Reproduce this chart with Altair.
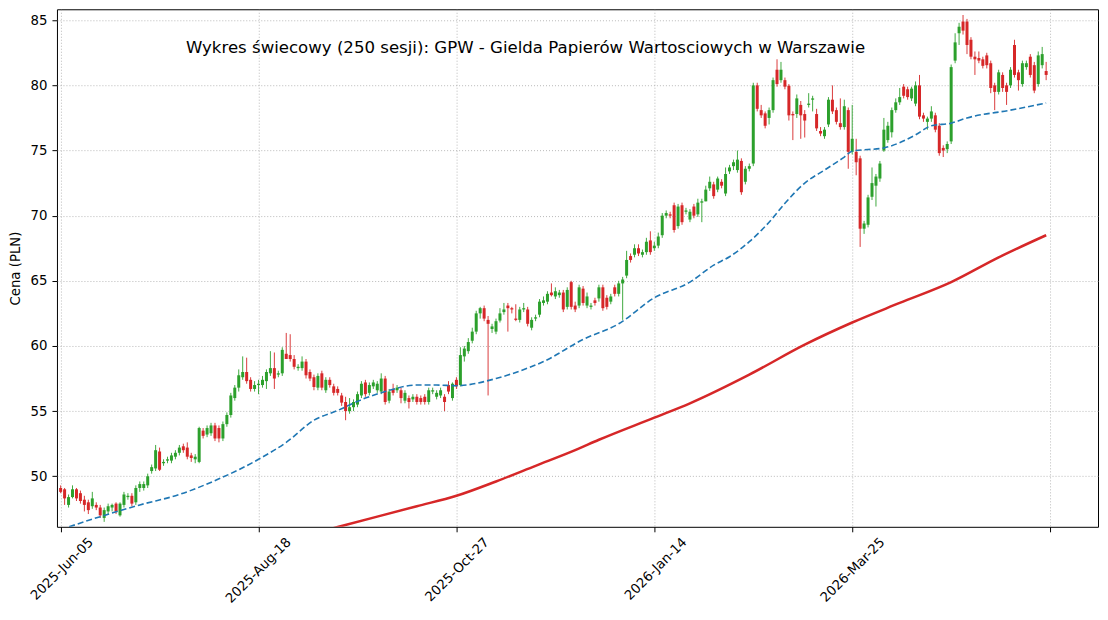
import pandas as pd
import altair as alt

# candles (one value per session, 250 sessions)
opens = [
    49.1, 49.0, 47.8, 48.4, 49.0, 48.7, 48.2, 48.0, 47.7, 47.8,
    47.6, 46.8, 47.3, 47.6, 47.9, 47.0, 47.8, 48.4, 48.5, 48.0,
    49.1, 49.1, 49.3, 50.4, 50.6, 51.9, 51.0, 51.2, 51.2, 51.5,
    51.8, 52.3, 52.2, 51.6, 51.3, 51.1, 53.5, 53.2, 53.3, 53.9,
    53.7, 52.9, 54.0, 54.7, 56.0, 56.8, 57.6, 58.0, 57.4, 56.7,
    57.0, 57.0, 57.3, 57.9, 58.3, 57.8, 57.9, 59.4, 59.3, 59.0,
    58.3, 58.3, 58.8, 58.0, 57.6, 56.8, 57.9, 56.6, 57.4, 56.9,
    56.7, 56.2, 55.7, 55.0, 55.3, 55.5, 56.2, 57.2, 56.4, 56.9,
    56.6, 56.5, 57.5, 55.8, 56.7, 56.6, 56.6, 55.8, 56.0, 55.9,
    56.1, 56.0, 56.1, 55.7, 56.5, 56.1, 56.2, 56.1, 57.0, 56.0,
    57.4, 57.0, 59.2, 59.6, 60.4, 61.1, 62.5, 62.9, 62.0, 61.3,
    61.1, 61.95, 62.6, 63.1, 62.9, 62.1, 62.0, 62.8, 62.8, 61.4,
    62.1, 62.4, 63.3, 63.4, 64.1, 63.8, 63.9, 64.1, 63.0, 64.9,
    63.1, 63.1, 64.4, 63.1, 63.0, 63.5, 63.65, 64.5, 63.7, 63.4,
    64.5, 64.0, 64.8, 65.4, 66.9, 67.0, 67.5, 67.0, 67.2, 68.1,
    67.5, 67.7, 68.5, 70.0, 70.1, 70.8, 69.2, 70.8, 70.3, 69.7,
    70.7, 70.1, 71.0, 71.1, 72.1, 72.4, 72.0, 72.6, 71.7, 73.4,
    73.8, 73.5, 74.2, 72.6, 73.6, 74.0, 80.0, 78.1, 77.85, 77.5,
    78.1, 81.2, 80.4, 80.4, 79.97, 77.8, 77.8, 78.5, 77.8, 78.5,
    78.9, 77.8, 76.5, 76.1, 77.0, 78.9, 78.1, 77.1, 76.8, 78.1,
    74.9, 74.9, 74.4, 69.0, 69.3, 71.45, 72.3, 72.85, 75.0, 75.8,
    76.4, 78.1, 78.7, 79.9, 79.7, 79.0, 78.6, 80.0, 77.7, 77.2,
    77.45, 77.7, 76.9, 75.2, 75.1, 75.7, 81.9, 84.0, 84.9, 84.9,
    83.5, 82.2, 82.1, 82.0, 82.3, 81.7, 80.0, 79.5, 80.8, 80.0,
    80.0, 83.1, 81.0, 80.1, 81.4, 82.2, 81.55, 80.1, 81.55, 81.1,
]
highs = [
    49.3, 49.1, 48.6, 49.3, 49.1, 48.9, 48.5, 48.2, 48.8, 48.0,
    47.8, 47.6, 47.9, 47.9, 48.0, 48.0, 48.8, 48.7, 48.7, 49.3,
    49.6, 49.6, 50.2, 50.9, 52.4, 52.2, 51.3, 51.5, 51.8, 52.0,
    52.4, 52.5, 52.6, 51.8, 51.7, 53.8, 53.7, 53.9, 54.1, 54.1,
    53.9, 54.2, 54.9, 56.4, 57.0, 58.2, 59.2, 59.1, 57.6, 57.3,
    57.4, 57.7, 58.2, 59.6, 59.5, 58.1, 59.9, 61.0, 60.9, 59.3,
    58.6, 59.2, 59.0, 58.2, 57.8, 57.9, 58.1, 57.6, 57.6, 57.1,
    56.9, 56.4, 56.1, 56.0, 55.9, 56.5, 57.3, 57.4, 57.2, 57.4,
    57.3, 57.9, 57.7, 56.7, 57.1, 57.0, 56.8, 56.6, 56.2, 56.3,
    56.3, 56.2, 56.3, 56.8, 56.8, 56.6, 56.8, 56.3, 57.3, 57.2,
    57.6, 59.9, 60.0, 60.6, 61.4, 62.7, 63.0, 63.1, 62.3, 61.7,
    62.1, 62.9, 63.3, 63.3, 63.0, 63.2, 63.0, 63.3, 63.0, 62.2,
    62.4, 63.6, 63.8, 64.2, 64.8, 64.5, 64.3, 64.3, 64.5, 65.0,
    63.4, 64.7, 64.6, 64.1, 63.3, 63.7, 64.7, 64.7, 63.9, 64.0,
    64.7, 65.0, 65.3, 67.3, 67.1, 67.8, 67.8, 67.4, 68.3, 68.8,
    68.0, 68.7, 70.2, 70.4, 70.3, 71.0, 70.9, 71.0, 70.6, 70.5,
    70.9, 71.3, 71.3, 72.3, 73.0, 72.6, 73.0, 72.8, 73.7, 73.9,
    74.3, 75.0, 74.4, 73.8, 74.0, 80.2, 80.2, 78.5, 78.0, 78.3,
    80.6, 82.0, 81.8, 80.6, 80.1, 78.0, 79.3, 78.8, 78.1, 79.4,
    79.2, 78.2, 76.8, 76.8, 79.1, 80.0, 78.3, 79.0, 78.9, 78.3,
    78.5, 75.9, 74.6, 69.6, 71.6, 73.7, 73.2, 74.2, 77.5, 77.2,
    78.3, 79.0, 79.8, 80.1, 79.9, 79.9, 80.3, 80.8, 77.9, 77.6,
    78.4, 77.9, 77.1, 75.4, 75.7, 81.6, 84.0, 84.8, 85.4, 85.1,
    83.7, 82.6, 82.6, 82.2, 82.5, 81.9, 80.2, 81.2, 81.0, 80.2,
    81.4, 83.5, 81.2, 81.9, 81.9, 82.4, 81.8, 82.6, 82.95, 81.8,
]
lows = [
    48.7, 47.8, 47.6, 48.3, 48.1, 47.9, 47.3, 47.1, 47.5, 47.4,
    46.8, 46.5, 47.1, 47.3, 47.1, 46.9, 47.6, 48.2, 47.7, 47.8,
    48.8, 48.9, 49.1, 50.2, 50.4, 50.4, 50.8, 51.0, 51.0, 51.3,
    51.6, 51.8, 51.3, 51.1, 51.0, 51.0, 52.9, 53.0, 53.1, 52.7,
    52.6, 52.7, 53.8, 54.5, 55.8, 56.5, 57.4, 57.1, 56.5, 56.5,
    56.3, 56.8, 56.7, 57.7, 56.7, 57.6, 57.7, 59.0, 58.8, 58.2,
    58.1, 58.1, 57.5, 57.3, 56.6, 56.6, 56.6, 56.4, 56.8, 56.2,
    56.2, 55.4, 54.3, 54.8, 55.0, 55.3, 56.0, 56.1, 56.2, 56.7,
    56.4, 56.3, 55.5, 55.6, 56.2, 56.4, 55.6, 55.6, 55.2, 55.7,
    55.5, 55.5, 55.5, 55.5, 56.3, 55.9, 56.0, 55.0, 56.3, 55.8,
    56.7, 56.9, 58.8, 59.4, 60.2, 60.9, 62.1, 61.9, 56.2, 61.0,
    60.9, 61.8, 62.4, 61.1, 62.5, 61.9, 61.8, 62.6, 61.5, 61.2,
    61.9, 62.2, 63.1, 63.2, 63.8, 63.6, 63.7, 62.6, 62.8, 62.8,
    62.6, 62.9, 63.1, 62.9, 62.8, 63.1, 63.4, 62.7, 62.8, 63.2,
    63.8, 63.8, 62.0, 65.2, 66.4, 66.8, 66.9, 66.8, 67.0, 67.0,
    67.3, 67.5, 68.3, 69.8, 69.8, 68.7, 69.0, 69.3, 70.1, 69.5,
    69.8, 69.9, 69.5, 71.1, 71.9, 71.3, 71.8, 72.1, 71.5, 73.2,
    73.5, 73.3, 71.6, 72.4, 73.4, 73.8, 78.0, 77.5, 76.7, 77.0,
    77.9, 79.9, 80.2, 79.7, 77.3, 75.8, 77.5, 75.9, 76.0, 78.3,
    78.0, 76.5, 76.1, 75.9, 76.8, 77.8, 77.0, 76.6, 76.6, 73.6,
    74.7, 73.1, 67.6, 68.6, 69.1, 71.2, 70.7, 72.6, 74.9, 75.6,
    76.0, 77.9, 78.5, 79.0, 78.9, 78.8, 78.4, 77.4, 77.2, 76.6,
    77.2, 76.4, 74.6, 74.5, 74.8, 75.5, 81.7, 83.1, 83.9, 82.4,
    82.0, 80.8, 81.7, 81.3, 81.3, 79.4, 78.1, 79.3, 79.5, 78.5,
    79.8, 80.6, 79.6, 79.9, 81.2, 80.6, 79.4, 79.9, 81.3, 80.4,
]
closes = [
    48.8, 48.3, 48.4, 49.0, 48.3, 48.1, 47.8, 47.4, 48.3, 47.6,
    47.0, 47.4, 47.7, 47.8, 47.3, 47.9, 48.6, 48.5, 47.9, 49.1,
    49.4, 49.4, 50.0, 50.7, 52.0, 50.5, 51.1, 51.3, 51.6, 51.8,
    52.2, 52.0, 51.5, 51.4, 51.5, 53.7, 53.1, 53.7, 53.9, 52.9,
    52.9, 54.0, 54.7, 56.2, 56.8, 57.75, 58.0, 57.3, 56.7, 57.0,
    57.1, 57.4, 58.0, 58.3, 57.5, 57.9, 59.7, 59.0, 59.0, 58.4,
    58.4, 58.8, 57.75, 57.5, 56.85, 57.7, 56.8, 57.4, 57.0, 56.4,
    56.4, 55.65, 55.0, 55.3, 55.7, 56.3, 57.1, 56.3, 57.0, 57.2,
    57.1, 57.5, 55.7, 56.5, 56.4, 56.8, 56.0, 56.4, 55.7, 56.1,
    55.7, 55.7, 55.7, 56.6, 56.6, 56.4, 56.6, 55.7, 56.5, 57.1,
    56.9, 59.3, 59.8, 60.3, 61.1, 62.5, 62.9, 62.1, 61.7, 61.5,
    61.9, 62.5, 62.8, 62.9, 62.8, 62.0, 62.8, 62.9, 61.7, 62.0,
    62.2, 63.4, 63.5, 64.0, 63.9, 64.2, 64.1, 62.8, 64.3, 63.0,
    62.8, 64.5, 63.3, 63.8, 63.1, 63.3, 64.5, 62.9, 63.0, 63.8,
    64.0, 64.8, 65.1, 66.6, 66.6, 67.5, 67.1, 67.2, 68.0, 67.2,
    67.7, 68.4, 70.0, 70.2, 70.0, 68.9, 70.7, 69.5, 70.4, 70.3,
    70.0, 71.0, 71.1, 72.0, 72.6, 71.5, 72.85, 72.3, 73.2, 73.7,
    74.1, 74.3, 71.8, 73.6, 73.8, 80.0, 78.2, 77.7, 76.9, 78.1,
    80.4, 80.1, 81.2, 79.9, 77.7, 77.7, 79.0, 77.7, 77.3, 78.6,
    79.0, 76.7, 76.3, 76.6, 78.9, 78.0, 77.2, 76.8, 78.4, 74.9,
    75.9, 74.1, 69.0, 69.4, 71.4, 72.5, 73.0, 74.0, 76.6, 76.9,
    78.1, 78.7, 79.1, 79.2, 79.1, 79.75, 80.0, 77.6, 77.45, 77.45,
    78.0, 76.6, 74.8, 75.0, 75.5, 81.4, 83.3, 84.5, 84.2, 83.1,
    82.2, 82.0, 81.9, 81.5, 81.55, 79.8, 79.5, 81.0, 79.8, 79.5,
    81.2, 80.8, 80.4, 81.7, 81.7, 80.8, 79.6, 82.3, 82.4, 80.8,
]

# moving averages (read at a few sessions)
ma_short_idx = [0, 10, 20, 30, 40, 45, 50, 57, 64, 70, 77, 82, 90, 95, 100,
                110, 118, 122, 132, 141, 150, 159, 165, 169, 174, 179, 183,
                188, 193, 198, 200, 208, 216, 220, 225, 229, 240, 249]
ma_short = [45.9, 46.9, 47.8, 48.6, 49.8, 50.5, 51.3, 52.6, 54.3, 55.05, 56.0,
            56.5, 57.0, 57.0, 56.95, 57.5, 58.3, 58.8, 60.5, 61.7, 63.7, 64.9,
            66.2, 66.85, 68.0, 69.5, 70.95, 72.5, 73.5, 74.5, 74.95, 75.2,
            76.2, 76.9, 77.1, 77.5, 78.1, 78.65]
ma_long_idx = [60, 70, 80, 90, 100, 110, 120, 130, 136, 150, 159, 174, 188,
               200, 212, 225, 237, 249]
ma_long = [45.3, 46.1, 46.9, 47.7, 48.5, 49.6, 50.8, 52.0, 52.8, 54.5, 55.6,
           57.8, 60.1, 61.8, 63.3, 64.9, 66.8, 68.5]

tick_idx = [0, 50, 100, 150, 200, 250]
tick_lbl = ["2025-Jun-05", "2025-Aug-18", "2025-Oct-27", "2026-Jan-14", "2026-Mar-25", ""]
title_txt = "Wykres świecowy (250 sesji): GPW - Gielda Papierów Wartosciowych w Warszawie"

#%%
df = pd.DataFrame({"i": range(len(closes)), "o": opens, "h": highs, "l": lows, "c": closes})
df["dir"] = ["up" if c >= o else "down" for o, c in zip(opens, closes)]
short = pd.DataFrame({"i": ma_short_idx, "v": ma_short})
long_ = pd.DataFrame({"i": ma_long_idx, "v": ma_long})

label_expr = "".join(f"datum.value == {t} ? '{s}' : " for t, s in zip(tick_idx, tick_lbl)) + "''"

xs = alt.Scale(domain=[-0.93, 262.1], nice=False, zero=False)
ys = alt.Scale(domain=[46.12, 85.84], nice=False, zero=False)
col = alt.Color("dir:N", scale=alt.Scale(domain=["up", "down"], range=["#2ca02c", "#d62728"]), legend=None)

x_axis = alt.Axis(values=tick_idx, labelExpr=label_expr, labelAngle=-45, labelAlign="right",
                  labelBaseline="top", labelOffset=25, labelPadding=3, tickSize=5)
y_axis = alt.Axis(values=[50, 55, 60, 65, 70, 75, 80, 85], format="d", tickSize=5,
                  labelPadding=5, titlePadding=8)

wicks = alt.Chart(df).mark_rule(strokeWidth=0.9).encode(
    alt.X("i:Q", scale=xs, axis=x_axis, title=None),
    alt.Y("l:Q", scale=ys, axis=y_axis, title="Cena (PLN)"),
    alt.Y2("h:Q"),
    color=col,
)
bodies = alt.Chart(df).mark_rule(strokeWidth=3, strokeCap="butt").encode(
    alt.X("i:Q", scale=xs),
    alt.Y("o:Q", scale=ys),
    alt.Y2("c:Q"),
    color=col,
)
ma1 = alt.Chart(short).mark_line(color="#1f77b4", strokeWidth=1.6, strokeDash=[6, 3],
                                 interpolate="monotone", clip=True).encode(
    alt.X("i:Q", scale=xs), alt.Y("v:Q", scale=ys)
)
ma2 = alt.Chart(long_).mark_line(color="#d62728", strokeWidth=2.5,
                                 interpolate="monotone", clip=True).encode(
    alt.X("i:Q", scale=xs), alt.Y("v:Q", scale=ys)
)
ttl = alt.Chart(pd.DataFrame({"t": [title_txt]})).mark_text(
    font="DejaVu Sans", fontSize=16.6, color="black", align="center", baseline="middle"
).encode(x=alt.value(469), y=alt.value(39), text="t:N")

chart = alt.layer(wicks, bodies, ma1, ma2, ttl).properties(
    width=1042, height=518,
    autosize=alt.AutoSizeParams(type="none"),
    padding={"left": 49, "top": 1, "right": 2, "bottom": 90},
).configure_view(
    stroke="black", strokeWidth=1
).configure_axis(
    labelFont="DejaVu Sans", titleFont="DejaVu Sans", labelFontSize=13.3, titleFontSize=13.3,
    titleFontWeight="normal", labelColor="black", titleColor="black",
    tickColor="black", domain=False, grid=True, gridColor="#a8a8a8",
    gridDash=[1, 2], gridWidth=0.8,
)

chart.save("out.html", embed_options={"renderer": "svg", "actions": False})
